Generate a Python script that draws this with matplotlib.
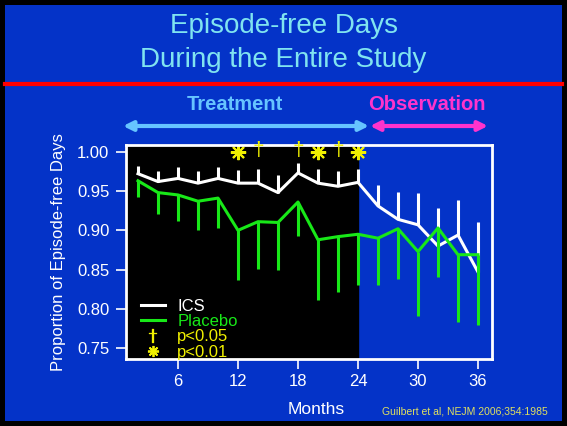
import matplotlib
matplotlib.use('Agg')
import matplotlib.pyplot as plt
from matplotlib.patches import Rectangle
from matplotlib.lines import Line2D
from matplotlib.transforms import blended_transform_factory

plt.rcParams['font.family'] = ['Liberation Sans', 'DejaVu Sans']

BLUE = '#0433c8'
GREEN = '#18e818'
YELLOW = '#f0f000'

months = [2, 4, 6, 8, 10, 12, 14, 16, 18, 20, 22, 24, 26, 28, 30, 32, 34, 36]
ics = [0.972, 0.962, 0.966, 0.960, 0.966, 0.960, 0.960, 0.948, 0.973, 0.960, 0.956, 0.961,
       0.931, 0.914, 0.907, 0.880, 0.894, 0.847]
ics_top = [0.982, 0.975, 0.980, 0.976, 0.980, 0.977, 0.978, 0.970, 0.985, 0.978, 0.976, 0.978,
           0.958, 0.949, 0.947, 0.929, 0.939, 0.910]
placebo = [0.963, 0.948, 0.945, 0.937, 0.941, 0.900, 0.911, 0.910, 0.936, 0.888, 0.892, 0.895,
           0.890, 0.902, 0.873, 0.903, 0.869, 0.869]
placebo_low = [0.943, 0.921, 0.912, 0.900, 0.903, 0.837, 0.851, 0.850, 0.893, 0.812, 0.821, 0.830,
               0.830, 0.838, 0.791, 0.841, 0.784, 0.780]
p05_months = [14, 18, 22]
p01_months = [12, 20, 24]
xticks = [6, 12, 18, 24, 30, 36]
yticks = [0.75, 0.80, 0.85, 0.90, 0.95, 1.00]

fig = plt.figure(figsize=(5.67, 4.26), dpi=100)
fig.patch.set_facecolor('black')
fig.patches.append(Rectangle((5/567, 5/426), 557/567, 416/426, transform=fig.transFigure,
                             facecolor=BLUE, edgecolor='none', zorder=-10))

# header
fig.text(0.5, 1 - 26/426, 'Episode-free Days', color='#80e4f0', fontsize=20, ha='center', va='center')
fig.text(0.5, 1 - 60/426, 'During the Entire Study', color='#80e4f0', fontsize=20, ha='center', va='center')
fig.add_artist(Line2D([5/567, 562/567], [1 - 84/426, 1 - 84/426], color='#ff0000', lw=3))

ax = fig.add_axes([126/567, 67/426, 366/567, 214/426])
ax.set_facecolor(BLUE)
ax.axvspan(0.8, 24, color='black', zorder=0)

ax.vlines(months, ics, ics_top, color='white', lw=2.2)
ax.plot(months, ics, color='white', lw=2.2)
ax.vlines(months, placebo_low, placebo, color=GREEN, lw=2.2)
ax.plot(months, placebo, color=GREEN, lw=2.2)

for m in p05_months:
    ax.text(m, 1.001, '\u2020', color=YELLOW, fontsize=15, ha='center', va='center')
ax.plot(p01_months, [1.0] * len(p01_months), ls='none', marker=(8, 2, 0), color=YELLOW, ms=11, mew=1.5)

ax.set_xlim(0.8, 37.4)
ax.set_ylim(0.7364, 1.0085)
ax.set_xticks(xticks)
ax.set_yticks(yticks)
ax.set_yticklabels(['%.2f' % v for v in yticks])
ax.tick_params(colors='white', labelsize=12, width=1.2, length=7)
ax.tick_params(axis='y', pad=5)
ax.tick_params(axis='x', pad=4)
for s in ax.spines.values():
    s.set_color('white')
    s.set_linewidth(2)
ax.set_ylabel('Proportion of Episode-free Days', color='white', fontsize=12, labelpad=8)
ax.set_xlabel('Months', color='white', fontsize=12.5)
ax.xaxis.set_label_coords(0.52, -0.2)

handles = [Line2D([], [], color='white', lw=2.2),
           Line2D([], [], color=GREEN, lw=2.2),
           Line2D([], [], ls='none', marker=r'$\dagger$', color=YELLOW, ms=10, mew=0.2),
           Line2D([], [], ls='none', marker=(8, 2, 0), color=YELLOW, ms=8, mew=1.3)]
leg = ax.legend(handles, ['ICS', 'Placebo', 'p<0.05', 'p<0.01'], loc='lower left',
                bbox_to_anchor=(0.015, -0.05), frameon=False, fontsize=12,
                handlelength=1.4, labelspacing=0.02, handletextpad=0.75, borderaxespad=0.2)
for t, c in zip(leg.get_texts(), ['white', GREEN, YELLOW, YELLOW]):
    t.set_color(c)

# treatment / observation arrows
tr = blended_transform_factory(ax.transData, fig.transFigure)
ay = 1 - 126/426
ax.annotate('', xy=(0.5, ay), xytext=(25.1, ay), xycoords=tr, textcoords=tr,
            arrowprops=dict(arrowstyle='<|-|>', color='#66c4ff', lw=3, mutation_scale=14,
                            shrinkA=0, shrinkB=0), annotation_clip=False)
ax.annotate('', xy=(25.2, ay), xytext=(37.0, ay), xycoords=tr, textcoords=tr,
            arrowprops=dict(arrowstyle='<|-|>', color='#ff33cc', lw=3, mutation_scale=14,
                            shrinkA=0, shrinkB=0), annotation_clip=False)
ax.text(11.7, 1 - 105/426, 'Treatment', transform=tr, color='#66c4ff', fontsize=14.5,
        fontweight='bold', ha='center', va='center')
ax.text(30.9, 1 - 104/426, 'Observation', transform=tr, color='#ff33cc', fontsize=14.5,
        fontweight='bold', ha='center', va='center')

fig.text(465/567, 1 - 411/426, 'Guilbert et al, NEJM 2006;354:1985', color='#e0e060',
         fontsize=7.5, ha='center', va='center')

fig.savefig('out.png', dpi=100, facecolor=fig.get_facecolor())
